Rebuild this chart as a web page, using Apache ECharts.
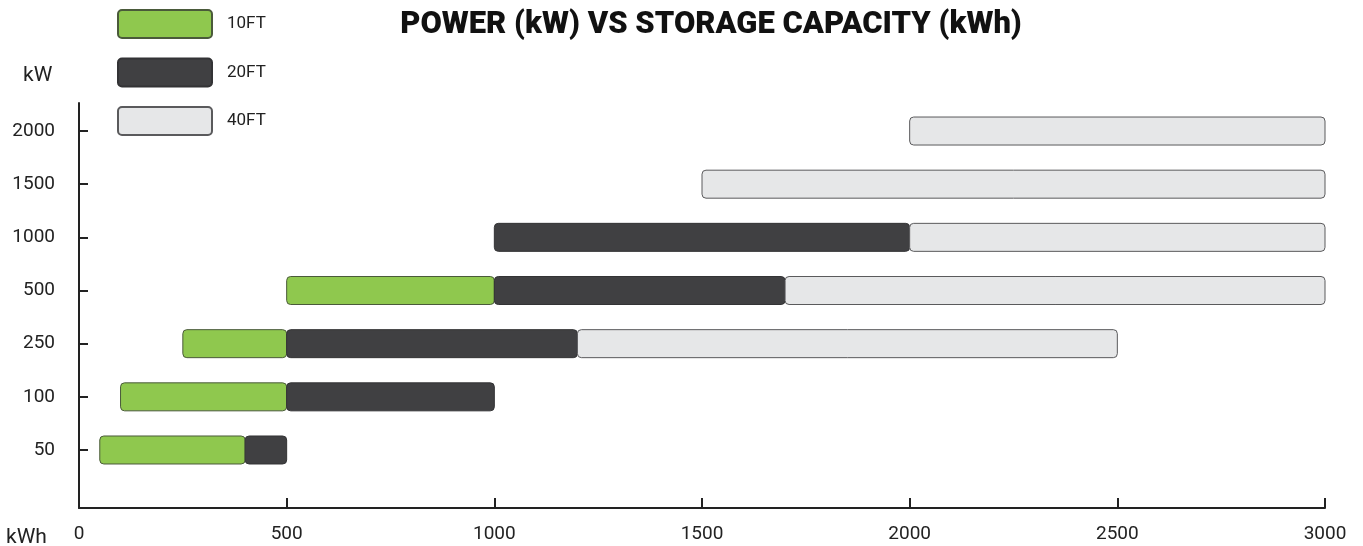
<!DOCTYPE html>
<html>
<head>
<meta charset="utf-8">
<script src="https://cdn.jsdelivr.net/npm/echarts@6/dist/echarts.min.js"></script>
<style>
html,body{margin:0;padding:0;background:#fff;}
#chart{width:1363px;height:546px;}
</style>
</head>
<body>
<div id="chart"></div>
<script>
// Power rows (kW), bottom to top
const categories = ['50', '100', '250', '500', '1000', '1500', '2000'];
// Storage capacity ranges (kWh) [start, end] per row; null = no bar
const ft10 = [[50, 400], [100, 500], [250, 500], [500, 1000], null, null, null];
const ft20 = [[400, 500], [500, 1000], [500, 1200], [1000, 1700], [1000, 2000], null, null];
const ft40 = [null, null, [1200, 2500], [1700, 3000], [2000, 3000], [1500, 3000], [2000, 3000]];
const seriesNames = ['10FT', '20FT', '40FT'];
const xTicks = [0, 500, 1000, 1500, 2000, 2500, 3000];

function toData(arr) {
  const out = [];
  arr.forEach((r, i) => { if (r) out.push([r[0], r[1], i]); });
  return out;
}

const colors = ['#8fc84e', '#404042', '#e6e7e8'];
const borders = ['#4a5a3a', '#333335', '#5a5a5c'];

function renderItem(params, api) {
  const s = api.coord([api.value(0), api.value(2)]);
  const e = api.coord([api.value(1), api.value(2)]);
  const h = 28;
  return {
    type: 'rect',
    shape: { x: s[0], y: s[1] - h / 2, width: e[0] - s[0], height: h, r: 4 },
    style: api.style()
  };
}

const chart = echarts.init(document.getElementById('chart'), null, { renderer: 'canvas' });
const textFont = 'Roboto, "Liberation Sans", sans-serif';
const legendIcon = 'path://M4,0 H90 A4,4 0 0 1 94,4 V24 A4,4 0 0 1 90,28 H4 A4,4 0 0 1 0,24 V4 A4,4 0 0 1 4,0 Z';

chart.setOption({
  animation: false,
  title: {
    text: 'POWER (kW) VS STORAGE CAPACITY (kWh)',
    left: 706, textAlign: 'center', top: 5,
    textStyle: { fontFamily: 'Roboto, sans-serif', fontWeight: 900, fontSize: 31, color: '#111' }
  },
  legend: {
    orient: 'vertical', left: 117, top: 9, padding: 0,
    itemWidth: 94, itemHeight: 28, itemGap: 18.5,
    icon: legendIcon,
    data: seriesNames,
    selectedMode: false,
    textStyle: { fontFamily: textFont, fontSize: 17, color: '#222', padding: [0, 0, 0, 10] }
  },
  grid: { left: 79, right: 38, top: 103, bottom: 38, containLabel: false },
  xAxis: {
    type: 'value', min: 0, max: 3000, interval: 500,
    axisLine: { show: true, onZero: false, lineStyle: { color: '#222', width: 2 } },
    axisTick: { show: true, inside: true, length: 10, lineStyle: { color: '#222', width: 2 } },
    axisLabel: { fontFamily: textFont, fontSize: 19, color: '#222', margin: 17,
      customValues: xTicks, formatter: v => String(v) },
    splitLine: { show: false }
  },
  yAxis: {
    type: 'value', min: -1.091, max: 6.527,
    axisLine: { show: true, onZero: false, lineStyle: { color: '#222', width: 2 } },
    axisTick: { show: true, inside: true, length: 9, customValues: [0, 1, 2, 3, 4, 5, 6], lineStyle: { color: '#222', width: 2 } },
    axisLabel: { fontFamily: textFont, fontSize: 19, color: '#222', margin: 24,
      customValues: [0, 1, 2, 3, 4, 5, 6],
      formatter: v => categories[Math.round(v)] },
    splitLine: { show: false }
  },
  graphic: [
    { type: 'text', left: 23, top: 65, style: { text: 'kW', font: '21px ' + textFont, fill: '#222' } },
    { type: 'text', left: 6, top: 527, style: { text: 'kWh', font: '21px ' + textFont, fill: '#222' } }
  ],
  series: [ft10, ft20, ft40].map((arr, k) => ({
    name: seriesNames[k],
    type: 'custom',
    renderItem: renderItem,
    encode: { x: [0, 1], y: 2 },
    itemStyle: { color: colors[k], borderColor: borders[k], borderWidth: 1 },
    data: toData(arr)
  }))
});
</script>
</body>
</html>
